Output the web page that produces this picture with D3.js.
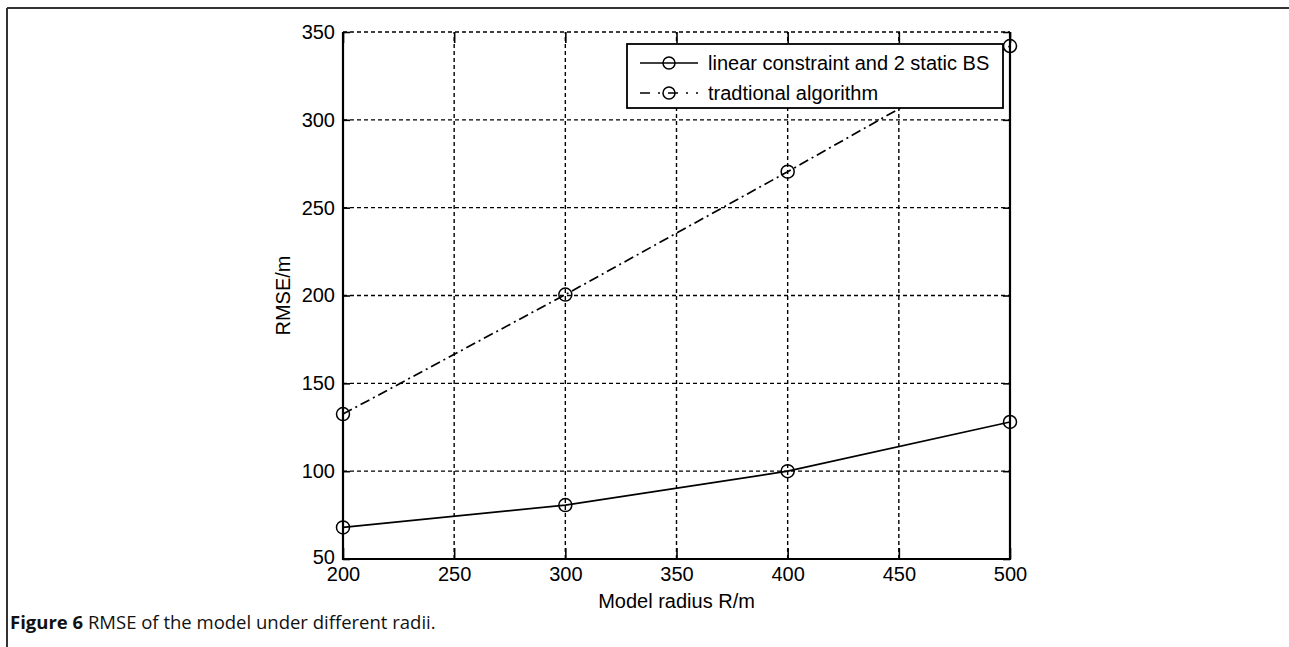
<!DOCTYPE html>
<html><head><meta charset="utf-8">
<script src="https://cdn.jsdelivr.net/npm/d3@7"></script>
<style>
html,body{margin:0;padding:0;background:#fff;}
svg{display:block;}
</style></head>
<body>
<script>
const radii = [200, 300, 400, 500];
const linearBS = [68, 80.7, 100, 128];
const traditional = [132.5, 200.5, 270.5, 342];
const xTicks = [200, 250, 300, 350, 400, 450, 500];
const yTicks = [50, 100, 150, 200, 250, 300, 350];
const seriesNames = ["linear constraint and 2 static BS", "tradtional algorithm"];
const xLabel = "Model radius R/m";
const yLabel = "RMSE/m";
const captionBold = "Figure 6";
const captionText = " RMSE of the model under different radii.";

const W = 1289, H = 647;
const L = 343, R = 1010, T = 32, B = 559;
const svg = d3.select("body").append("svg").attr("width", W).attr("height", H);
const fontMain = '"Liberation Sans",Arial,sans-serif';

// figure frame
svg.append("line").attr("x1", 7).attr("x2", W).attr("y1", 8).attr("y2", 8).attr("stroke", "#333").attr("stroke-width", 2);
svg.append("line").attr("x1", 7).attr("x2", 7).attr("y1", 8).attr("y2", H).attr("stroke", "#333").attr("stroke-width", 2);

const x = d3.scaleLinear().domain([200, 500]).range([L, R]);
const y = d3.scaleLinear().domain([50, 350]).range([B, T]);

// grid
const grid = svg.append("g").attr("stroke", "#000").attr("stroke-width", 1.4).attr("stroke-dasharray", "4,3");
grid.selectAll("line.gx").data(xTicks.slice(1, -1)).join("line").attr("class","gx")
  .attr("x1", d => x(d)).attr("x2", d => x(d)).attr("y1", B).attr("y2", T);
grid.selectAll("line.gy").data(yTicks.slice(1, -1)).join("line").attr("class","gy")
  .attr("x1", L).attr("x2", R).attr("y1", d => y(d)).attr("y2", d => y(d));
svg.append("line").attr("x1", L).attr("x2", R).attr("y1", T).attr("y2", T)
  .attr("stroke", "#000").attr("stroke-width", 1.6).attr("stroke-dasharray", "4,3");

// axes
const axB = d3.axisBottom(x).tickValues(xTicks).tickSize(-11).tickPadding(8).tickFormat(d3.format("d"));
const axL = d3.axisLeft(y).tickValues(yTicks).tickSize(-7).tickPadding(8).tickFormat(d3.format("d"));
const axT = d3.axisTop(x).tickValues(xTicks).tickSize(-11).tickFormat("");
const axR = d3.axisRight(y).tickValues(yTicks).tickSize(-7).tickFormat("");
function style(g){
  g.select(".domain").remove();
  g.selectAll(".tick line").attr("stroke", "#000").attr("stroke-width", 1.6);
  g.selectAll(".tick text").attr("fill", "#000").style("font-size", "20px").style("font-family", fontMain);
}
svg.append("g").attr("transform", `translate(0,${B})`).call(axB).call(style);
const gL = svg.append("g").attr("transform", `translate(${L},0)`).call(axL).call(style);
gL.selectAll(".tick text").filter(d => d === 50).attr("dy", "0.2em");
svg.append("g").attr("transform", `translate(0,${T})`).call(axT).call(style);
svg.append("g").attr("transform", `translate(${R},0)`).call(axR).call(style);

// box (left, bottom, right solid)
svg.append("path").attr("d", `M${L},${T}V${B}H${R}V${T}`).attr("fill", "none").attr("stroke", "#000").attr("stroke-width", 2.2);

// axis labels
svg.append("text").attr("x", (L + R) / 2).attr("y", 608).attr("text-anchor", "middle")
  .style("font-family", fontMain).style("font-size", "20px").text(xLabel);
svg.append("text").attr("transform", `translate(290,${(T + B) / 2}) rotate(-90)`).attr("text-anchor", "middle")
  .style("font-family", fontMain).style("font-size", "20px").text(yLabel);

// lines
const line = d3.line().x((d, i) => x(radii[i])).y(d => y(d));
const series = [
  {vals: linearBS, dash: null},
  {vals: traditional, dash: "10,4,2,4"}
];
series.forEach(s => {
  svg.append("path").datum(s.vals).attr("d", line).attr("fill", "none").attr("stroke", "#000")
    .attr("stroke-width", 1.7).attr("stroke-dasharray", s.dash);
});

// legend (drawn over the lines)
const lg = svg.append("g");
lg.append("rect").attr("x", 627).attr("y", 44).attr("width", 376).attr("height", 64)
  .attr("fill", "#fff").attr("stroke", "#000").attr("stroke-width", 1.8);
seriesNames.forEach((n, i) => {
  const yy = 63 + i * 30;
  lg.append("line").attr("x1", 640).attr("x2", 698).attr("y1", yy).attr("y2", yy)
    .attr("stroke", "#000").attr("stroke-width", 1.7).attr("stroke-dasharray", series[i].dash ? "10,8,2,8" : null);
  lg.append("circle").attr("cx", 669).attr("cy", yy).attr("r", 6).attr("fill", "none").attr("stroke", "#000").attr("stroke-width", 1.5);
  lg.append("text").attr("x", 708).attr("y", yy + 7).style("font-family", fontMain).style("font-size", "20px").text(n);
});

// markers
series.forEach(s => {
  svg.append("g").selectAll("circle").data(s.vals).join("circle")
    .attr("cx", (d, i) => x(radii[i])).attr("cy", d => y(d)).attr("r", 6.5)
    .attr("fill", "none").attr("stroke", "#000").attr("stroke-width", 1.5);
});

// caption
const cap = svg.append("text").attr("x", 10).attr("y", 629)
  .style("font-family", '"Open Sans","Noto Sans",sans-serif').style("font-size", "18.5px").attr("fill", "#111");
cap.append("tspan").style("font-weight", "bold").text(captionBold);
cap.append("tspan").text(captionText);
</script>
</body></html>
